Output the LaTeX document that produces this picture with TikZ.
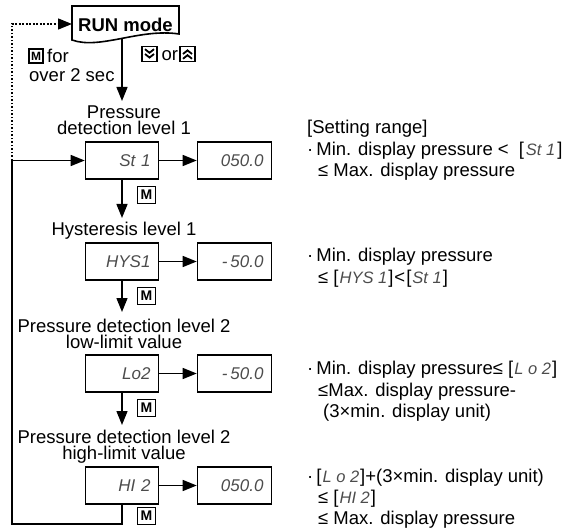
\documentclass[tikz,border=0pt]{standalone}
\usepackage{fontspec}
\setmainfont{Liberation Sans}
\newfontfamily\segf{Liberation Sans}
\usetikzlibrary{arrows.meta}
\definecolor{segc}{gray}{0.3}
\newcommand{\sg}[1]{{\segf\itshape\fontsize{16.5}{16.5}\selectfont\color{segc}#1}}
\begin{document}
\begin{tikzpicture}[x=1pt,y=-1pt,
 line/.style={line width=1.4pt},
 arr/.style={line width=1.4pt,-{Triangle[length=14pt,width=11pt]}},
 dotl/.style={line width=1.8pt, dash pattern=on 1.8pt off 1.7pt},
 disp/.style={draw, line width=1.6pt, minimum height=37pt, text width=57pt, inner xsep=8pt, inner ysep=0pt, align=right, text=segc, font=\fontsize{17}{17}\selectfont\segf\itshape},
 dispv/.style={disp, text width=58pt},
 lbl/.style={anchor=base, inner sep=0pt, font=\fontsize{18.5}{18.5}\selectfont},
 lbl2/.style={anchor=north, inner sep=0pt, align=center, font=\fontsize{18.5}{16}\selectfont},
 rtxt/.style={anchor=base west, inner sep=0pt, font=\fontsize{18.5}{18.5}\selectfont},
 mkey/.style={draw, line width=1.3pt, minimum width=18pt, minimum height=17pt, inner sep=0pt, font=\fontsize{14}{14}\selectfont\bfseries},
 mkeys/.style={mkey, minimum width=14pt, minimum height=14pt, font=\fontsize{12}{12}\selectfont\bfseries},
 chev/.style={draw, line width=1.2pt, minimum size=15pt, inner sep=0pt}
]
\useasboundingbox (0,0) rectangle (572,529);

% RUN mode
\draw[line width=1.6pt] (72,6) -- (179,6) -- (179,34) .. controls (140,28) and (100,50) .. (72,40) -- cycle;
\node[anchor=base, inner sep=0pt, font=\fontsize{18.5}{18.5}\selectfont\bfseries] (run) at (125.5,32) {RUN mode};
\coordinate (runw) at (72,24);
\coordinate (runb) at (122,39);
\coordinate (t0) at (122,101);

% keys under RUN mode
\node[mkeys] (mk0) at (36,56) {M};
\node[anchor=base west, inner sep=0pt, font=\fontsize{18.5}{18.5}\selectfont] (for) at (47,63) {for};
\node[anchor=base west, inner sep=0pt, font=\fontsize{18.5}{18.5}\selectfont] (over) at (29,82) {over 2 sec};
\node[chev] (kdn) at (149.5,54) {};
\draw[line width=1.8pt] ([shift={(-4.5,-4.8)}]kdn.center) -- ([shift={(0,-1.2)}]kdn.center) -- ([shift={(4.5,-4.8)}]kdn.center);
\draw[line width=1.8pt] ([shift={(-4.5,0)}]kdn.center) -- ([shift={(0,3.6)}]kdn.center) -- ([shift={(4.5,0)}]kdn.center);
\node[anchor=base west, inner sep=0pt, font=\fontsize{18.5}{18.5}\selectfont] (or) at (161.5,61) {or};
\node[chev] (kup) at (187.5,54) {};
\draw[line width=1.8pt] ([shift={(-4.5,4.8)}]kup.center) -- ([shift={(0,1.2)}]kup.center) -- ([shift={(4.5,4.8)}]kup.center);
\draw[line width=1.8pt] ([shift={(-4.5,0)}]kup.center) -- ([shift={(0,-3.6)}]kup.center) -- ([shift={(4.5,0)}]kup.center);

% labels
\node[lbl2] (l1) at (124,105.7) {Pressure\\detection level 1};
\node[lbl] (l2) at (124,235) {Hysteresis level 1};
\node[lbl2] (l3) at (124,318.5) {Pressure detection level 2\\low-limit value};
\node[lbl2] (l4) at (124,429.5) {Pressure detection level 2\\high-limit value};

% displays
\node[disp] (st1) at (122,160.5) {St 1};
\node[dispv] (v1) at (234.5,160.5) {050.0};
\node[disp] (hys) at (122,261.5) {HYS1};
\node[dispv] (v2) at (234.5,261.5) {-\hspace{3pt}50.0};
\node[disp] (lo2) at (122,373.5) {Lo2};
\node[dispv] (v3) at (234.5,373.5) {-\hspace{3pt}50.0};
\node[disp] (hi2) at (122,485.5) {HI 2};
\node[dispv] (v4) at (234.5,485.5) {050.0};

% M keys
\node[mkey] (mk1) at (146.5,195) {M};
\node[mkey] (mk2) at (146.5,296) {M};
\node[mkey] (mk3) at (146.5,408) {M};
\node[mkey] (mk4) at (146.5,516) {M};

% coordinates
\coordinate (lp) at (12,160.5);
\coordinate (bl) at (12,524);
\coordinate (t1) at (122,218);
\coordinate (t2) at (122,312);
\coordinate (t3) at (122,425);

% connectors
\draw[dotl] (lp) -- (12,24) -- ([xshift=-12pt]runw);
\draw[arr] ([xshift=-13pt]runw) -- (runw);
\draw[arr] (runb) -- (t0);
\draw[arr] (lp) -- (st1.west);
\draw[line] (hi2.south) |- (bl) -- (lp);
\draw[arr] (st1) -- (v1);
\draw[arr] (hys) -- (v2);
\draw[arr] (lo2) -- (v3);
\draw[arr] (hi2) -- (v4);
\draw[arr] (st1.south) -- (t1);
\draw[arr] (hys.south) -- (t2);
\draw[arr] (lo2.south) -- (t3);

% right texts
\node[rtxt] (r1) at (307,134) {[Setting range]};
\node[rtxt] (r2) at (307,156) {·\hspace{3pt}Min. display pressure <\hspace{10pt}[\hspace{2pt}\sg{St 1}\hspace{2pt}]};
\node[rtxt] (r3) at (318,177) {≤ Max. display pressure};
\node[rtxt] (r4) at (307,261) {·\hspace{3pt}Min. display pressure};
\node[rtxt] (r5) at (318,283) {≤ [\hspace{1pt}\sg{HYS 1}\hspace{1pt}]\hspace{1pt}<\hspace{1pt}[\hspace{1pt}\sg{St 1}\hspace{1pt}]};
\node[rtxt] (r6) at (307,374) {·\hspace{3pt}Min. display pressure≤ [\hspace{1pt}\sg{L o 2}\hspace{1pt}]};
\node[rtxt] (r7) at (318,396) {≤Max. display pressure-};
\node[rtxt] (r8) at (323,417) {(3×min. display unit)};
\node[rtxt] (r9) at (307,482) {·\hspace{3pt}[\hspace{1pt}\sg{L o 2}\hspace{1pt}]+(3×min. display unit)};
\node[rtxt] (r10) at (318,503) {≤ [\hspace{1pt}\sg{HI 2}\hspace{1pt}]};
\node[rtxt] (r11) at (318,524) {≤ Max. display pressure};
\end{tikzpicture}
\end{document}
